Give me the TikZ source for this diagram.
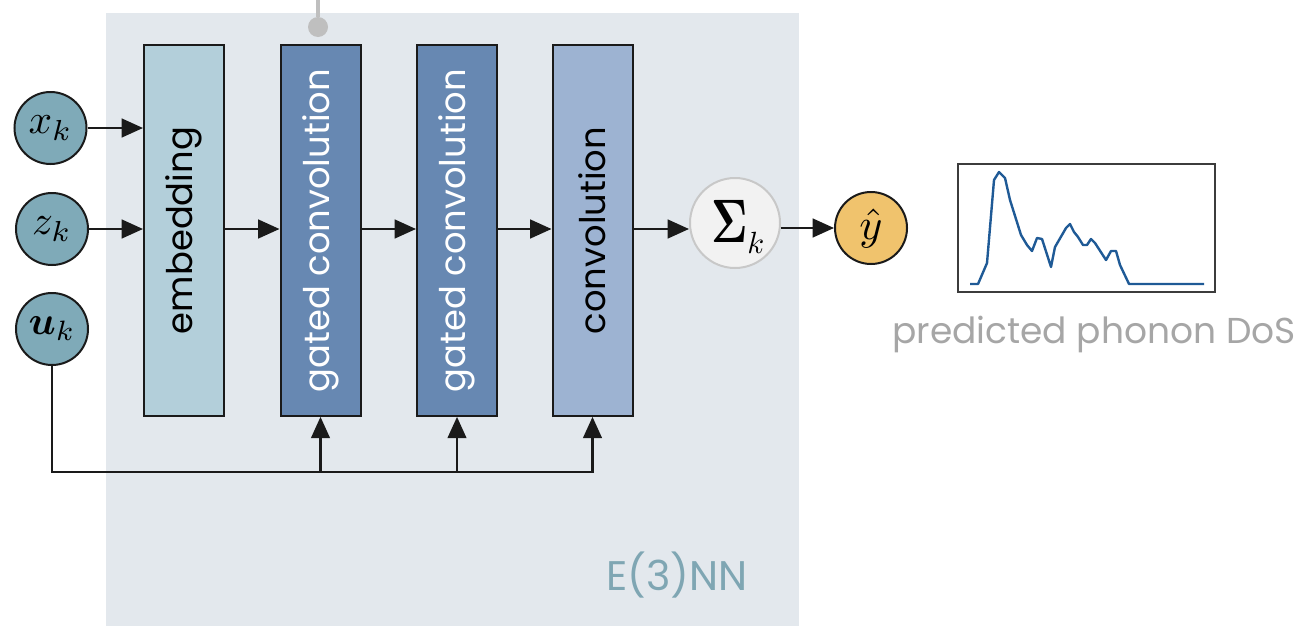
\documentclass[tikz,border=0pt]{standalone}
\usepackage{amsmath,bm}
\usepackage{fontspec}
\setmainfont{Poppins}
\usetikzlibrary{arrows.meta}
\definecolor{panelbg}{HTML}{E3E8ED}
\definecolor{inpfill}{HTML}{7FAAB8}
\definecolor{embfill}{HTML}{B3CFDA}
\definecolor{gatefill}{HTML}{6788B2}
\definecolor{convfill}{HTML}{9DB3D2}
\definecolor{sigfill}{HTML}{F2F2F2}
\definecolor{sigdraw}{HTML}{C8C8C8}
\definecolor{yfill}{HTML}{F0C36D}
\definecolor{dosline}{HTML}{1F5A96}
\definecolor{dotgray}{HTML}{BFBFBF}
\definecolor{labgray}{HTML}{A6A6A6}
\definecolor{e3nncol}{HTML}{7FA6B3}
\definecolor{ink}{HTML}{1A1A1A}
\begin{document}
\begin{tikzpicture}[x=0.75pt,y=-0.75pt,
  inp/.style={circle,draw=ink,line width=1.5pt,fill=inpfill,minimum size=54pt,inner sep=0pt,font=\normalsize},
  layer/.style={rectangle,draw=ink,line width=1.5pt,minimum width=60pt,minimum height=278pt,inner sep=0pt,font=\fontsize{26.5}{30}\selectfont},
  arr/.style={draw=ink,line width=1.8pt,-{Triangle[length=16pt,width=14pt]}},
  wire/.style={draw=ink,line width=1.8pt},
  glyph/.style={anchor=base west,inner sep=0pt,font=\normalsize},
]
\useasboundingbox (0,0) rectangle (1301,625);
% background panel
\fill[panelbg] (106,13) rectangle (799,626);

% gray connector at top
\coordinate (dottop) at (318,-2);
\node[circle,fill=dotgray,minimum size=15pt,inner sep=0pt] (dot) at (318,27) {};
\draw[dotgray,line width=2.3pt] (dottop) -- (dot);

% inputs
\node[inp] (x) at (50.5,128) {\scalebox{3.1}{$x_k$}};
\node[inp] (z) at (52,229) {\scalebox{3.1}{$z_k$}};
\node[inp] (u) at (52,329) {\scalebox{3.0}{$\bm{u}_k$}};

% layers
\node[layer,fill=embfill] (emb) at (184,230.5) {\rotatebox{90}{embedding}};
\node[layer,fill=gatefill,text=white] (g1) at (320.5,230.5) {\rotatebox{90}{gated convolution}};
\node[layer,fill=gatefill,text=white] (g2) at (457,230.5) {\rotatebox{90}{gated convolution}};
\node[layer,fill=convfill] (cv) at (592.5,230.5) {\rotatebox{90}{convolution}};

% sum and output
\node[circle,draw=sigdraw,fill=sigfill,line width=1.5pt,minimum size=67.5pt,inner sep=0pt] (sig) at (735,223) {};
\node[glyph] (sigS) at (711,242) {\scalebox{3.3}[4.6]{$\bm{\Sigma}$}};
\node[glyph] (sigk) at (747,253) {\scalebox{2.3}{$k$}};
\node[circle,draw=ink,fill=yfill,line width=1.5pt,minimum size=54pt,inner sep=0pt,font=\normalsize] (yh) at (871,228) {\scalebox{3.3}{$\hat{y}$}};

% connectors
\draw[arr] (x) -- (x -| emb.west);
\draw[arr] (z) -- (z -| emb.west);
\draw[arr] (emb.east |- z) -- (g1.west |- z);
\draw[arr] (g1.east |- z) -- (g2.west |- z);
\draw[arr] (g2.east |- z) -- (cv.west |- z);
\draw[arr] (cv.east |- z) -- (sig.west |- z);
\draw[arr] (sig.east |- yh) -- (yh);

% bus from u
\coordinate (bus) at (594,472);
\draw[wire] (u) |- (bus);
\draw[arr] (g1.south |- bus) -- (g1.south);
\draw[arr] (g2.south |- bus) -- (g2.south);
\draw[arr] (cv.south |- bus) -- (cv.south);

% chart
\node[draw=ink!85,line width=1.5pt,minimum width=192.75pt,minimum height=96pt,inner sep=0pt] (chart) at (1086.5,228) {};
\draw[dosline,line width=1.8pt,line join=round]
 (970,284) -- (978,284) -- (987,263) -- (994,180) -- (999,172) -- (1005,178)
 -- (1010,200) -- (1021,235) -- (1027,245) -- (1032,251) -- (1037,238)
 -- (1042,239) -- (1051,267) -- (1055,247) -- (1066,228) -- (1070,224)
 -- (1074,232) -- (1078,237) -- (1083,245) -- (1087,245) -- (1091,239)
 -- (1095,243) -- (1106,260) -- (1111,251) -- (1116,251) -- (1120,265)
 -- (1129,284) -- (1204,284);

% labels
\node[font=\fontsize{27}{32}\selectfont,anchor=base,inner sep=0pt,text=labgray] (doslab) at (1094,343) {predicted phonon DoS};
\node[font=\fontsize{31}{36}\selectfont,anchor=base,inner sep=0pt,text=e3nncol] (e3nnlab) at (677,590) {E(3)NN};
\end{tikzpicture}
\end{document}
